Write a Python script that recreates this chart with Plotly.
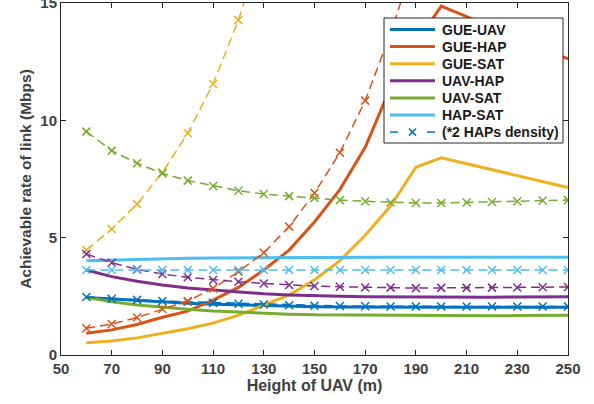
import plotly.graph_objects as go

heights = [60, 70, 80, 90, 100, 110, 120, 130, 140, 150, 160, 170, 180, 190, 200, 210, 220, 230, 240, 250]

# Solid series (baseline)
gue_uav = [2.45, 2.38, 2.31, 2.25, 2.20, 2.16, 2.13, 2.10, 2.08, 2.06, 2.05, 2.04, 2.03, 2.03, 2.03, 2.03, 2.03, 2.03, 2.03, 2.03]
gue_hap = [0.93, 1.07, 1.30, 1.61, 1.87, 2.34, 2.88, 3.62, 4.47, 5.67, 7.05, 8.85, 11.4, 13.3, 14.87, 14.42, 13.97, 13.52, 13.07, 12.62]
gue_sat = [0.52, 0.60, 0.73, 0.92, 1.12, 1.36, 1.70, 2.12, 2.56, 3.20, 4.02, 5.10, 6.35, 8.00, 8.40, 8.15, 7.90, 7.65, 7.40, 7.14]
uav_hap = [3.62, 3.34, 3.14, 2.98, 2.86, 2.77, 2.68, 2.61, 2.56, 2.52, 2.50, 2.48, 2.47, 2.46, 2.46, 2.46, 2.46, 2.47, 2.47, 2.48]
uav_sat = [2.46, 2.27, 2.13, 2.03, 1.95, 1.87, 1.82, 1.78, 1.74, 1.71, 1.70, 1.69, 1.68, 1.67, 1.67, 1.67, 1.67, 1.68, 1.68, 1.69]
hap_sat = [4.02, 4.05, 4.08, 4.10, 4.12, 4.13, 4.14, 4.15, 4.16, 4.16, 4.17, 4.17, 4.17, 4.17, 4.17, 4.17, 4.17, 4.17, 4.17, 4.17]

# Dashed series (*2 HAPs density)
gue_uav_2 = [2.47, 2.40, 2.35, 2.30, 2.27, 2.22, 2.18, 2.15, 2.12, 2.10, 2.09, 2.08, 2.07, 2.07, 2.07, 2.07, 2.07, 2.07, 2.07, 2.07]
gue_hap_2 = [1.14, 1.32, 1.60, 1.96, 2.30, 2.84, 3.55, 4.36, 5.47, 6.90, 8.62, 10.84, 13.7, 17.0, 20.5, 24.0, 27.5, 31.0, 34.5, 38.0]
gue_sat_2 = [4.47, 5.37, 6.43, 7.78, 9.45, 11.55, 14.27, 17.5, 21.0, 25.0, 29.5, 34.5, 40.0, 46.0, 52.0, 58.0, 64.0, 70.0, 76.0, 82.0]
uav_hap_2 = [4.30, 3.93, 3.65, 3.45, 3.31, 3.20, 3.12, 3.05, 2.98, 2.94, 2.91, 2.88, 2.87, 2.85, 2.86, 2.86, 2.87, 2.88, 2.89, 2.90]
uav_sat_2 = [9.52, 8.71, 8.17, 7.74, 7.43, 7.20, 7.00, 6.86, 6.77, 6.69, 6.60, 6.55, 6.50, 6.48, 6.48, 6.50, 6.52, 6.55, 6.58, 6.60]
hap_sat_2 = [3.62, 3.62, 3.62, 3.62, 3.62, 3.62, 3.62, 3.62, 3.62, 3.62, 3.62, 3.62, 3.62, 3.62, 3.62, 3.62, 3.62, 3.62, 3.62, 3.62]

names = ["GUE-UAV", "GUE-HAP", "GUE-SAT", "UAV-HAP", "UAV-SAT", "HAP-SAT"]
colors = ["#0072BD", "#D95319", "#EDB120", "#7E2F8E", "#77AC30", "#4DBEEE"]
solid = [gue_uav, gue_hap, gue_sat, uav_hap, uav_sat, hap_sat]
dashed = [gue_uav_2, gue_hap_2, gue_sat_2, uav_hap_2, uav_sat_2, hap_sat_2]
dense_label = "(*2 HAPs density)"

x_ticks = [50, 70, 90, 110, 130, 150, 170, 190, 210, 230, 250]
y_ticks = [0, 5, 10, 15]

# figure geometry (pixels)
W, H = 594, 404
ML, MR, MT, MB = 61, 26, 3, 49
PW, PH = W - ML - MR, H - MT - MB

def px(xp):
    return (xp - ML) / PW

def py(yp):
    return (H - MB - yp) / PH

fig = go.Figure()
for name, c, ys in zip(names, colors, solid):
    fig.add_trace(go.Scatter(x=heights, y=ys, mode="lines", name=name, showlegend=False,
                             line=dict(color=c, width=3)))
for c, ys in zip(colors, dashed):
    fig.add_trace(go.Scatter(x=heights, y=ys, mode="lines+markers", showlegend=False,
                             line=dict(color=c, width=1.5, dash="9px,5px"),
                             marker=dict(symbol="x-thin", size=8, line=dict(color=c, width=1.5)),
                             cliponaxis=True))

# Manual legend (box, sample lines, labels)
shapes = []
annotations = []
box = dict(x0=384, x1=563, y0=18, y1=143)
shapes.append(dict(type="rect", xref="paper", yref="paper", layer="above",
                   x0=px(box["x0"]), x1=px(box["x1"]), y0=py(box["y1"]), y1=py(box["y0"]),
                   fillcolor="white", line=dict(color="#262626", width=1)))
row_y0, row_dy = 29.5, 17.1
labels = names + [dense_label]
for i, lab in enumerate(labels):
    yy = py(row_y0 + i * row_dy)
    if i < len(names):
        shapes.append(dict(type="line", xref="paper", yref="paper", layer="above",
                           x0=px(390), x1=px(435), y0=yy, y1=yy,
                           line=dict(color=colors[i], width=3)))
    else:
        for a, b in [(390, 398), (427, 435)]:
            shapes.append(dict(type="line", xref="paper", yref="paper", layer="above",
                               x0=px(a), x1=px(b), y0=yy, y1=yy,
                               line=dict(color=colors[0], width=1.5)))
        d = 3.5
        shapes.append(dict(type="line", xref="paper", yref="paper", layer="above",
                           x0=px(412.5 - d), x1=px(412.5 + d), y0=py(row_y0 + i * row_dy - d),
                           y1=py(row_y0 + i * row_dy + d), line=dict(color=colors[0], width=1.5)))
        shapes.append(dict(type="line", xref="paper", yref="paper", layer="above",
                           x0=px(412.5 - d), x1=px(412.5 + d), y0=py(row_y0 + i * row_dy + d),
                           y1=py(row_y0 + i * row_dy - d), line=dict(color=colors[0], width=1.5)))
    annotations.append(dict(xref="paper", yref="paper", x=px(440), y=yy, xanchor="left",
                            yanchor="middle", showarrow=False, text="<b>" + lab + "</b>",
                            font=dict(family="Liberation Sans", size=14, color="#1a1a1a")))

axis_common = dict(showgrid=False, zeroline=False, showline=True, linecolor="#262626", linewidth=1,
                   mirror="ticks", ticks="inside", ticklen=5, tickcolor="#262626",
                   automargin=False, ticklabeloverflow="allow",
                   tickfont=dict(family="Liberation Sans", size=15, color="#404040", weight="bold"))

fig.update_layout(
    width=W, height=H,
    margin=dict(l=ML, r=MR, t=MT, b=MB),
    plot_bgcolor="white", paper_bgcolor="white",
    font=dict(family="Liberation Sans", color="#404040"),
    showlegend=False,
    xaxis=dict(range=[50, 250], tickvals=x_ticks,
               title=dict(text="<b>Height of UAV (m)</b>", font=dict(size=16, color="#404040"), standoff=2),
               **axis_common),
    yaxis=dict(range=[0, 15], tickvals=y_ticks,
               title=dict(text="<b>Achievable rate of link (Mbps)</b>", font=dict(size=15.5, color="#404040"), standoff=4),
               **axis_common),
    shapes=shapes,
    annotations=annotations,
)

fig.write_html("out.html", config={"displayModeBar": False},
               post_script="document.body.style.margin='0';document.body.style.padding='0';")
